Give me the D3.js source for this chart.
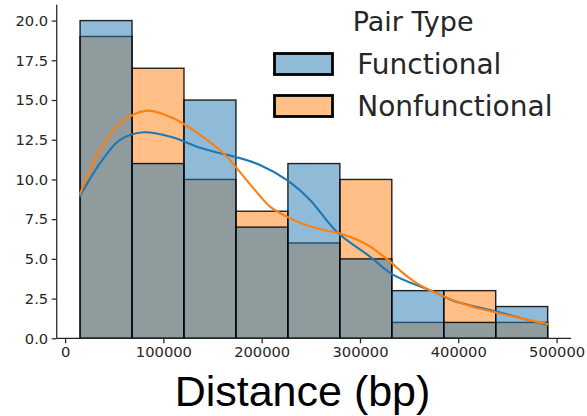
<!DOCTYPE html>
<html>
<head>
<meta charset="utf-8">
<script src="https://cdn.jsdelivr.net/npm/d3@7"></script>
<style>
  html, body { margin: 0; padding: 0; background: #fff; }
  svg { display: block; }
</style>
</head>
<body>
<svg id="chart" width="587" height="416"></svg>
<script>
// Histogram bin edges (bp), shared by both pair types
const binEdges = [15254, 68110, 120966, 173822, 226678, 279534, 332390, 385246, 438102, 490958];

// Counts per bin
const functionalCounts    = [20, 11, 15, 7, 11, 5, 3, 1, 2];
const nonfunctionalCounts = [19, 17, 10, 8, 6, 10, 1, 3, 1];

// Density estimates scaled to counts: [distance (bp), value]
const functionalKde = [
  [15254, 8.96], [35600, 11.02], [55900, 12.49], [79600, 12.97], [106800, 12.70],
  [137300, 12.00], [157600, 11.65], [174600, 11.40], [198300, 10.91], [225400, 9.97],
  [249200, 8.71], [276300, 6.71], [310200, 5.14], [333900, 3.99], [374600, 2.94],
  [395000, 2.37], [439000, 1.68], [490958, 0.84]
];
const nonfunctionalKde = [
  [15254, 9.10], [35600, 11.86], [55900, 13.54], [83100, 14.33], [110100, 13.85],
  [137300, 12.80], [161000, 11.65], [174600, 10.71], [191500, 9.45], [208500, 8.29],
  [225400, 7.66], [242300, 7.20], [262700, 6.82], [279700, 6.60], [296600, 6.22],
  [310200, 5.78], [321000, 5.30], [332300, 4.75], [343000, 4.15], [354200, 3.62],
  [366000, 3.18], [378000, 2.83], [408500, 2.10], [439000, 1.61], [490958, 0.90]
];

// Axis ticks
const xTicks = [0, 100000, 200000, 300000, 400000, 500000];
const yTicks = [0, 2.5, 5, 7.5, 10, 12.5, 15, 17.5, 20];

const seriesNames = ["Functional", "Nonfunctional"];
const seriesColors = ["#1f77b4", "#ff7f0e"];
const legendTitle = "Pair Type";
const xLabel = "Distance (bp)";

const svg = d3.select("#chart");
const axisColor = "#262626";
const tickFont = "'DejaVu Sans', sans-serif";

const x = d3.scaleLinear().domain([-8528, 514682]).range([56.7, 571]);
const y = d3.scaleLinear().domain([0, 21]).range([338.3, 4.7]);

// Bars: nonfunctional first, functional layered on top
function drawBars(counts, color) {
  const bins = counts.map((c, i) => ({ x0: binEdges[i], x1: binEdges[i + 1], c }));
  svg.append("g").selectAll("rect").data(bins).join("rect")
    .attr("x", d => x(d.x0))
    .attr("y", d => y(d.c))
    .attr("width", d => x(d.x1) - x(d.x0))
    .attr("height", d => y(0) - y(d.c))
    .attr("fill", color)
    .attr("fill-opacity", 0.5)
    .attr("stroke", "#000")
    .attr("stroke-opacity", 0.85)
    .attr("stroke-width", 1.4);
}
drawBars(nonfunctionalCounts, seriesColors[1]);
drawBars(functionalCounts, seriesColors[0]);

// Density curves
const line = d3.line()
  .x(d => x(d[0]))
  .y(d => y(d[1]))
  .curve(d3.curveCatmullRom.alpha(0.5));
[[functionalKde, seriesColors[0]], [nonfunctionalKde, seriesColors[1]]].forEach(([pts, col]) => {
  svg.append("path")
    .datum(pts)
    .attr("d", line)
    .attr("fill", "none")
    .attr("stroke", col)
    .attr("stroke-width", 2.1)
    .attr("stroke-linecap", "square");
});

// Axes
const xAxis = d3.axisBottom(x).tickValues(xTicks).tickFormat(d3.format("d")).tickSizeOuter(0).tickSize(5).tickPadding(3.5);
const yAxis = d3.axisLeft(y).tickValues(yTicks).tickFormat(d3.format(".1f")).tickSizeOuter(0).tickSize(5).tickPadding(3.5);

const gx = svg.append("g").attr("transform", `translate(0,${y(0)})`).call(xAxis);
gx.select(".domain").remove();
gx.append("line").attr("x1", x.range()[0]).attr("x2", x.range()[1]).attr("stroke", axisColor).attr("stroke-width", 1.25);

const gy = svg.append("g").attr("transform", `translate(${x.range()[0]},0)`).call(yAxis);
gy.select(".domain").remove();
gy.append("line").attr("y1", y.range()[0]).attr("y2", y.range()[1]).attr("stroke", axisColor).attr("stroke-width", 1.25);

[gx, gy].forEach(g => {
  g.selectAll(".tick line").attr("stroke", axisColor).attr("stroke-width", 1.25);
  g.selectAll(".tick text").attr("fill", axisColor).style("font-family", tickFont).style("font-size", "14.7px");
});

// X axis title
svg.append("text")
  .attr("x", 302.5)
  .attr("y", 406)
  .attr("text-anchor", "middle")
  .style("font-family", "'Liberation Sans', Arial, sans-serif")
  .style("font-size", "43px")
  .attr("fill", "#000")
  .text(xLabel);

// Legend
const legend = svg.append("g");
legend.append("text")
  .attr("x", 352.7).attr("y", 30.7)
  .style("font-family", tickFont).style("font-size", "27px")
  .attr("fill", axisColor)
  .text(legendTitle);
seriesNames.forEach((name, i) => {
  const yTop = 53.5 + i * 42;
  legend.append("rect")
    .attr("x", 274.5).attr("y", yTop)
    .attr("width", 58).attr("height", 21)
    .attr("fill", seriesColors[i]).attr("fill-opacity", 0.5)
    .attr("stroke", "#000").attr("stroke-width", 2.8);
  legend.append("text")
    .attr("x", 357.3).attr("y", yTop + 20.5)
    .style("font-family", tickFont).style("font-size", "28px")
    .attr("fill", axisColor)
    .text(name);
});
</script>
</body>
</html>
